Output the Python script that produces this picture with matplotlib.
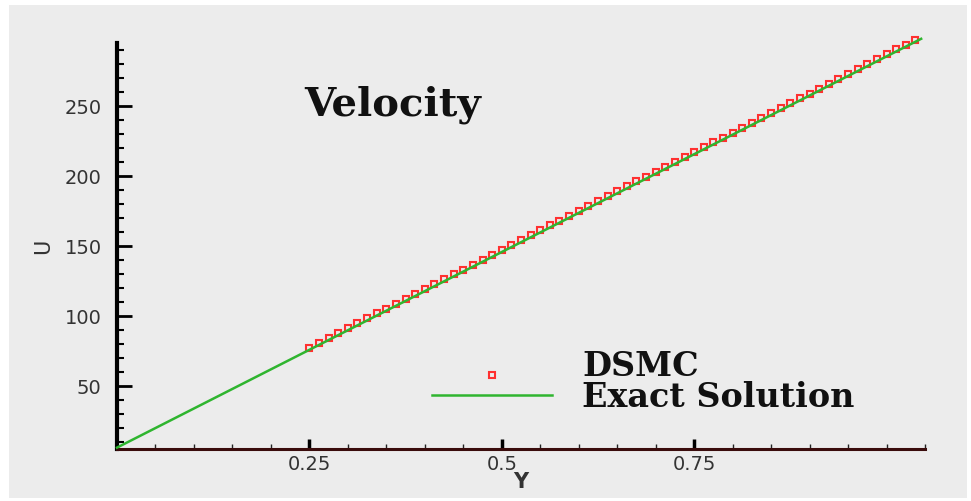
import numpy as np
import matplotlib.pyplot as plt
from matplotlib.patches import Rectangle
from matplotlib.ticker import MultipleLocator
from matplotlib.legend_handler import HandlerLine2D

# exact solution (straight line)
exact_y = [0.0, 1.045]
exact_u = [6.0, 298.0]

# DSMC samples
dsmc_y = [0.25, 0.2625, 0.275, 0.2875, 0.3, 0.3125, 0.325, 0.3375, 0.35, 0.3625,
          0.375, 0.3875, 0.4, 0.4125, 0.425, 0.4375, 0.45, 0.4625, 0.475, 0.4875,
          0.5, 0.5125, 0.525, 0.5375, 0.55, 0.5625, 0.575, 0.5875, 0.6, 0.6125,
          0.625, 0.6375, 0.65, 0.6625, 0.675, 0.6875, 0.7, 0.7125, 0.725, 0.7375,
          0.75, 0.7625, 0.775, 0.7875, 0.8, 0.8125, 0.825, 0.8375, 0.85, 0.8625,
          0.875, 0.8875, 0.9, 0.9125, 0.925, 0.9375, 0.95, 0.9625, 0.975, 0.9875,
          1.0, 1.0125, 1.025, 1.0375]
dsmc_u = [77.4, 80.8, 84.3, 87.8, 91.3, 94.8, 98.3, 101.8, 105.3, 108.8,
          112.3, 115.8, 119.3, 122.8, 126.2, 129.7, 133.2, 136.7, 140.2, 143.7,
          147.2, 150.7, 154.2, 157.7, 161.2, 164.7, 168.1, 171.6, 175.1, 178.6,
          182.1, 185.6, 189.1, 192.6, 196.1, 199.6, 203.1, 206.6, 210.0, 213.5,
          217.0, 220.5, 224.0, 227.5, 231.0, 234.5, 238.0, 241.5, 245.0, 248.5,
          251.9, 255.4, 258.9, 262.4, 265.9, 269.4, 272.9, 276.4, 279.9, 283.4,
          286.9, 290.4, 293.8, 297.3]

x_major = [0.25, 0.5, 0.75]
x_labels = ['0.25', '0.5', '0.75']


class LowMarker(HandlerLine2D):
    # the DSMC symbol sits lower than its label in the original
    def create_artists(self, legend, orig_handle, xdescent, ydescent, width, height, fontsize, trans):
        arts = super().create_artists(legend, orig_handle, xdescent, ydescent, width, height, fontsize, trans)
        for a in arts:
            a.set_ydata(np.asarray(a.get_ydata()) - 8)
        return arts


bg = '#ececec'
fig = plt.figure(figsize=(9.71, 5.01), dpi=100)
fig.patch.set_facecolor('white')
fig.patches.append(Rectangle((9/971, 3/501), 958/971, 493/501, transform=fig.transFigure,
                             facecolor=bg, edgecolor='none', zorder=-10))

ax = fig.add_axes([117/971, 1-449/501, 808/971, 406/501])
ax.set_facecolor('none')

ax.plot(exact_y, exact_u, color='#2fb52f', lw=1.8, label='Exact Solution', zorder=3, clip_on=False)
dsmc, = ax.plot(dsmc_y, dsmc_u, ls='none', marker='s', ms=5, mfc='none', mec='#ff3030', mew=1.5,
                label='DSMC', zorder=2, clip_on=False)

ax.set_xlim(0, 1.05)
ax.set_ylim(5, 295)

for s in ['top', 'right']:
    ax.spines[s].set_visible(False)
ax.spines['left'].set_linewidth(3)
ax.spines['left'].set_color('black')
ax.spines['bottom'].set_linewidth(2.2)
ax.spines['bottom'].set_color('#3a0c0c')

ax.set_xticks(x_major)
ax.set_xticklabels(x_labels)
ax.xaxis.set_minor_locator(MultipleLocator(0.05))
ax.yaxis.set_major_locator(MultipleLocator(50))
ax.yaxis.set_minor_locator(MultipleLocator(10))

ax.tick_params(axis='y', which='major', direction='in', length=11, width=2, pad=11,
               labelsize=14, labelcolor='#333333', color='black')
ax.tick_params(axis='y', which='minor', direction='in', length=5, width=1.5, color='black')
ax.tick_params(axis='x', which='major', direction='in', length=7, width=2.5, pad=4,
               labelsize=14, labelcolor='#333333', color='black')
ax.tick_params(axis='x', which='minor', direction='in', length=3.5, width=1, color='#222222')
for lab in ax.get_xticklabels() + ax.get_yticklabels():
    lab.set_family('DejaVu Sans')

ax.set_xlabel('Y', fontsize=15, fontweight='bold', color='#333333', labelpad=-1)
ax.set_ylabel('U', fontsize=15, color='#333333', labelpad=8)

fig.text(393/971, 1-115/501, 'Velocity', ha='center', va='baseline',
         fontsize=29, fontweight='bold', family='DejaVu Serif', color='#111111')

h, l = ax.get_legend_handles_labels()
leg = ax.legend(h[::-1], l[::-1], loc='upper left', bbox_to_anchor=(0.39, 0.245),
                frameon=False, borderpad=0, borderaxespad=0, handlelength=3.6,
                handletextpad=0.9, labelspacing=-0.05, numpoints=1,
                handler_map={dsmc: LowMarker(numpoints=1)},
                prop={'family': 'DejaVu Serif', 'weight': 'bold', 'size': 24})
for t in leg.get_texts():
    t.set_color('#111111')

fig.savefig('out.png', dpi=100, facecolor=fig.get_facecolor())
